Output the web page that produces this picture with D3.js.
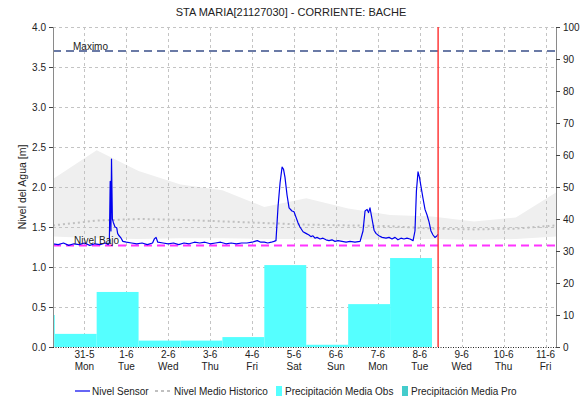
<!DOCTYPE html>
<html>
<head>
<meta charset="utf-8">
<script src="https://cdn.jsdelivr.net/npm/d3@7"></script>
<style>
  html, body { margin: 0; padding: 0; background: #fff; }
  svg { display: block; font-family: "Liberation Sans", Arial, sans-serif; }
</style>
</head>
<body>
<svg id="chart" width="583" height="403"></svg>
<script>
// ---- data ----
const titleText = "STA MARIA[21127030] - CORRIENTE: BACHE";
const domainStart = "2021-05-30 06:00";
const domainEnd = "2021-06-11 06:00";
const nowMark = "2021-06-08 10:30";

const levelTicks = [0, 0.5, 1.0, 1.5, 2.0, 2.5, 3.0, 3.5, 4.0];
const precipTicks = [0, 10, 20, 30, 40, 50, 60, 70, 80, 90, 100];

const nivelMaximo = 3.7;
const nivelBajo = 1.27;

// Sensor readings (m)
const sensorTimes = [
  "2021-05-30 06:00","2021-05-30 09:00","2021-05-30 12:00","2021-05-30 15:00","2021-05-30 18:00","2021-05-30 21:00",
  "2021-05-31 00:00","2021-05-31 03:00","2021-05-31 06:00","2021-05-31 09:00","2021-05-31 12:00","2021-05-31 13:30",
  "2021-05-31 14:15","2021-05-31 14:45","2021-05-31 15:10","2021-05-31 15:30","2021-05-31 16:00","2021-05-31 16:30",
  "2021-05-31 17:30","2021-05-31 18:30","2021-05-31 19:00","2021-05-31 19:30","2021-05-31 21:00","2021-05-31 22:00",
  "2021-06-01 00:00","2021-06-01 03:00","2021-06-01 06:00","2021-06-01 09:00","2021-06-01 12:00","2021-06-01 15:00",
  "2021-06-01 16:00","2021-06-01 17:00","2021-06-01 18:00","2021-06-01 21:00",
  "2021-06-02 00:00","2021-06-02 03:00","2021-06-02 06:00","2021-06-02 09:00","2021-06-02 12:00","2021-06-02 15:00",
  "2021-06-02 18:00","2021-06-02 21:00",
  "2021-06-03 00:00","2021-06-03 03:00","2021-06-03 06:00","2021-06-03 09:00","2021-06-03 12:00","2021-06-03 15:00",
  "2021-06-03 18:00","2021-06-03 21:00",
  "2021-06-04 00:00","2021-06-04 01:30","2021-06-04 03:00","2021-06-04 05:00","2021-06-04 07:00","2021-06-04 09:00",
  "2021-06-04 11:00","2021-06-04 12:30","2021-06-04 13:40","2021-06-04 14:50","2021-06-04 16:00","2021-06-04 17:10",
  "2021-06-04 18:00","2021-06-04 18:50","2021-06-04 20:00","2021-06-04 21:10","2021-06-04 22:50",
  "2021-06-05 00:00","2021-06-05 01:10","2021-06-05 02:20","2021-06-05 03:25","2021-06-05 05:10","2021-06-05 06:50",
  "2021-06-05 08:35","2021-06-05 09:40","2021-06-05 10:50","2021-06-05 12:00","2021-06-05 13:10","2021-06-05 14:55",
  "2021-06-05 16:35","2021-06-05 18:20","2021-06-05 20:00","2021-06-05 21:45","2021-06-05 23:25",
  "2021-06-06 01:10","2021-06-06 03:30","2021-06-06 05:50","2021-06-06 08:05","2021-06-06 10:55","2021-06-06 13:50",
  "2021-06-06 15:30","2021-06-06 16:40","2021-06-06 17:50","2021-06-06 18:40","2021-06-06 19:30","2021-06-06 20:40",
  "2021-06-06 21:50","2021-06-06 22:55",
  "2021-06-07 00:35","2021-06-07 02:25","2021-06-07 04:40","2021-06-07 06:25","2021-06-07 08:05","2021-06-07 09:50",
  "2021-06-07 11:30","2021-06-07 13:15","2021-06-07 14:55","2021-06-07 16:40","2021-06-07 18:25","2021-06-07 20:10",
  "2021-06-07 21:15","2021-06-07 22:05","2021-06-07 23:00","2021-06-07 23:50",
  "2021-06-08 00:45","2021-06-08 01:55","2021-06-08 03:00","2021-06-08 04:10","2021-06-08 05:20","2021-06-08 06:25",
  "2021-06-08 07:35","2021-06-08 08:40","2021-06-08 09:55","2021-06-08 10:25"
];
const sensorLevels = [
  1.29,1.28,1.30,1.27,1.29,1.28,
  1.30,1.27,1.29,1.28,1.30,1.28,
  1.30,2.07,1.45,2.35,1.60,1.56,
  1.50,1.49,1.42,1.40,1.36,1.32,
  1.31,1.30,1.29,1.30,1.28,1.30,
  1.35,1.37,1.31,1.30,
  1.29,1.30,1.28,1.30,1.29,1.31,
  1.30,1.31,
  1.29,1.30,1.31,1.29,1.30,1.29,
  1.30,1.30,
  1.31,1.32,1.33,1.31,1.31,1.30,
  1.31,1.32,1.33,1.75,2.05,2.25,
  2.22,2.12,1.90,1.74,1.70,
  1.69,1.62,1.55,1.50,1.44,1.42,
  1.40,1.38,1.39,1.36,1.37,1.35,
  1.36,1.34,1.33,1.34,1.32,
  1.33,1.32,1.31,1.32,1.31,1.32,
  1.45,1.70,1.72,1.68,1.74,1.60,
  1.46,1.42,
  1.39,1.37,1.36,1.37,1.35,1.37,
  1.34,1.36,1.35,1.36,1.35,1.33,
  1.45,1.95,2.19,2.12,
  2.00,1.85,1.72,1.65,1.56,1.45,
  1.40,1.37,1.39,1.41
];

// Historical level: band (min / max) and mean (m)
const histTimes = [
  "2021-05-30 06:00","2021-05-31 07:00","2021-06-01 07:00","2021-06-02 07:00","2021-06-03 07:00",
  "2021-06-04 07:00","2021-06-05 07:00","2021-06-06 07:00","2021-06-07 07:00","2021-06-08 07:00",
  "2021-06-09 07:00","2021-06-10 07:00","2021-06-11 06:00"
];
const histMax  = [2.10, 2.46, 2.20, 2.03, 1.96, 1.75, 1.86, 1.73, 1.65, 1.63, 1.57, 1.62, 1.93];
const histMean = [1.52, 1.58, 1.60, 1.59, 1.57, 1.55, 1.53, 1.52, 1.51, 1.48, 1.47, 1.48, 1.52];
const histMin  = [1.38, 1.36, 1.35, 1.36, 1.36, 1.35, 1.35, 1.34, 1.35, 1.35, 1.34, 1.35, 1.38];

// Daily precipitation (mm), each day running 07:00 to 07:00
const precipObsDays = ["2021-05-29","2021-05-30","2021-05-31","2021-06-01","2021-06-02",
                       "2021-06-03","2021-06-04","2021-06-05","2021-06-06","2021-06-07"];
const precipObsValues = [10, 4.1, 17.2, 2.0, 2.0, 3.1, 25.6, 0.7, 13.4, 27.8];
const precipProDays = [];
const precipProValues = [];

const legendLabels = ["Nivel Sensor", "Nivel Medio Historico", "Precipitación Media Obs", "Precipitación Media Pro"];

// ---- layout ----
const W = 583, H = 403;
const m = { left: 53, right: 27, top: 27, bottom: 56 };
const plotR = W - m.right, plotB = H - m.bottom;

const parse = d3.utcParse("%Y-%m-%d %H:%M");
const parseDay = s => parse(s + " 07:00");

const x = d3.scaleUtc().domain([parse(domainStart), parse(domainEnd)]).range([m.left, plotR]);
const y = d3.scaleLinear().domain([0, 4]).range([plotB, m.top]);
const yR = d3.scaleLinear().domain([0, 100]).range([plotB, m.top]);

const svg = d3.select("#chart");
const fontSize = 10;

svg.append("defs").append("clipPath").attr("id", "plotclip")
  .append("rect").attr("x", m.left).attr("y", m.top)
  .attr("width", plotR - m.left).attr("height", plotB - m.top);

// title
svg.append("text").attr("x", 291).attr("y", 16).attr("text-anchor", "middle")
  .attr("font-size", 11).attr("fill", "#222").text(titleText);

const plot = svg.append("g").attr("clip-path", "url(#plotclip)");

// historical band
const hist = histTimes.map((t, i) => ({ t: parse(t), hi: histMax[i], mid: histMean[i], lo: histMin[i] }));
plot.append("path").datum(hist)
  .attr("fill", "#efefef")
  .attr("d", d3.area().x(d => x(d.t)).y0(d => y(d.lo)).y1(d => y(d.hi)));

// grid
const dayTicks = d3.utcDay.range(parse("2021-05-31 00:00"), parse(domainEnd));
plot.append("g").selectAll("line").data(levelTicks.filter(v => v > 0)).join("line")
  .attr("x1", m.left).attr("x2", plotR)
  .attr("y1", d => Math.round(y(d)) + 0.5).attr("y2", d => Math.round(y(d)) + 0.5)
  .attr("stroke", "#c4c4c4").attr("stroke-dasharray", "3,3");
plot.append("g").selectAll("line").data(dayTicks).join("line")
  .attr("x1", d => Math.round(x(d)) + 0.5).attr("x2", d => Math.round(x(d)) + 0.5)
  .attr("y1", m.top).attr("y2", plotB)
  .attr("stroke", "#c4c4c4").attr("stroke-dasharray", "3,3");

// historical mean line
plot.append("path").datum(hist)
  .attr("fill", "none").attr("stroke", "#c0c0c0").attr("stroke-width", 2)
  .attr("stroke-dasharray", "2,3")
  .attr("d", d3.line().x(d => x(d.t)).y(d => y(d.mid)));

// precipitation bars
const obs = precipObsDays.map((d, i) => ({ t0: parseDay(d), t1: d3.utcDay.offset(parseDay(d), 1), v: precipObsValues[i] }));
plot.append("g").selectAll("rect").data(obs).join("rect")
  .attr("x", d => x(d.t0)).attr("width", d => x(d.t1) - x(d.t0))
  .attr("y", d => yR(d.v)).attr("height", d => yR(0) - yR(d.v))
  .attr("fill", "#55ffff");
const pro = precipProDays.map((d, i) => ({ t0: parseDay(d), t1: d3.utcDay.offset(parseDay(d), 1), v: precipProValues[i] }));
plot.append("g").selectAll("rect").data(pro).join("rect")
  .attr("x", d => x(d.t0)).attr("width", d => x(d.t1) - x(d.t0))
  .attr("y", d => yR(d.v)).attr("height", d => yR(0) - yR(d.v))
  .attr("fill", "#44cccc");

// reference levels
plot.append("line").attr("x1", m.left).attr("x2", plotR)
  .attr("y1", y(nivelMaximo)).attr("y2", y(nivelMaximo))
  .attr("stroke", "#6a7aa6").attr("stroke-width", 2).attr("stroke-dasharray", "8,5");
plot.append("line").attr("x1", m.left).attr("x2", plotR)
  .attr("y1", y(nivelBajo)).attr("y2", y(nivelBajo))
  .attr("stroke", "#ff33ff").attr("stroke-width", 2).attr("stroke-dasharray", "8,5");

// sensor level
const sensor = sensorTimes.map((t, i) => ({ t: parse(t), v: sensorLevels[i] }));
plot.append("path").datum(sensor)
  .attr("fill", "none").attr("stroke", "#0000ee").attr("stroke-width", 1.2)
  .attr("stroke-linejoin", "round")
  .attr("d", d3.line().x(d => x(d.t)).y(d => y(d.v)));

// reference labels
svg.append("text").attr("x", 73).attr("y", y(nivelMaximo) - 1).attr("font-size", 10)
  .attr("fill", "#222").text("Maximo");
svg.append("text").attr("x", 74).attr("y", y(nivelBajo) - 1).attr("font-size", 10)
  .attr("fill", "#222").text("Nivel Bajo");

// current time marker
svg.append("line").attr("x1", x(parse(nowMark))).attr("x2", x(parse(nowMark)))
  .attr("y1", m.top).attr("y2", plotB)
  .attr("stroke", "#ff3b3b").attr("stroke-width", 1.5);

// axes
const axisColor = "#8a8a8a";
const leftAxis = svg.append("g").attr("transform", `translate(${m.left},0)`)
  .call(d3.axisLeft(y).tickValues(levelTicks).tickFormat(d3.format(".1f")).tickSize(4).tickPadding(3));
const rightAxis = svg.append("g").attr("transform", `translate(${plotR},0)`)
  .call(d3.axisRight(yR).tickValues(precipTicks).tickSize(4).tickPadding(3));
[leftAxis, rightAxis].forEach(g => {
  g.select(".domain").attr("stroke", axisColor);
  g.selectAll(".tick line").attr("stroke", "#444");
  g.selectAll("text").attr("font-size", fontSize).attr("fill", "#222")
    .attr("font-family", "Liberation Sans, Arial, sans-serif");
});

// bottom axis: dotted baseline and two-line day labels
svg.append("line").attr("x1", m.left).attr("x2", plotR)
  .attr("y1", plotB + 0.5).attr("y2", plotB + 0.5)
  .attr("stroke", "#222").attr("stroke-dasharray", "1,1.5");
const fmtDate = d3.utcFormat("%-d-%-m");
const fmtDay = d3.utcFormat("%a");
const xLab = svg.append("g").selectAll("g").data(dayTicks).join("g")
  .attr("transform", d => `translate(${x(d)},0)`);
xLab.append("text").attr("y", 358).attr("text-anchor", "middle")
  .attr("font-size", fontSize).attr("fill", "#222").text(fmtDate);
xLab.append("text").attr("y", 370).attr("text-anchor", "middle")
  .attr("font-size", fontSize).attr("fill", "#222").text(fmtDay);

// y axis title
svg.append("text").attr("transform", `translate(26,${(m.top + plotB) / 2}) rotate(-90)`)
  .attr("text-anchor", "middle").attr("font-size", 10.5).attr("fill", "#222")
  .text("Nivel del Agua [m]");

// legend
const lg = svg.append("g").attr("font-size", 10).attr("fill", "#222");
const ly = 391;
lg.append("line").attr("x1", 75).attr("x2", 90).attr("y1", ly).attr("y2", ly)
  .attr("stroke", "#0000ee").attr("stroke-width", 1.2);
lg.append("text").attr("x", 92).attr("y", ly + 4).text(legendLabels[0]);
lg.append("line").attr("x1", 155).attr("x2", 171).attr("y1", ly).attr("y2", ly)
  .attr("stroke", "#c0c0c0").attr("stroke-width", 2).attr("stroke-dasharray", "3,3");
lg.append("text").attr("x", 174).attr("y", ly + 4).text(legendLabels[1]);
lg.append("rect").attr("x", 276).attr("y", ly - 5).attr("width", 6).attr("height", 10).attr("fill", "#55ffff");
lg.append("text").attr("x", 285).attr("y", ly + 4).text(legendLabels[2]);
lg.append("rect").attr("x", 402).attr("y", ly - 5).attr("width", 6).attr("height", 10).attr("fill", "#44cccc");
lg.append("text").attr("x", 411).attr("y", ly + 4).text(legendLabels[3]);
</script>
</body>
</html>
